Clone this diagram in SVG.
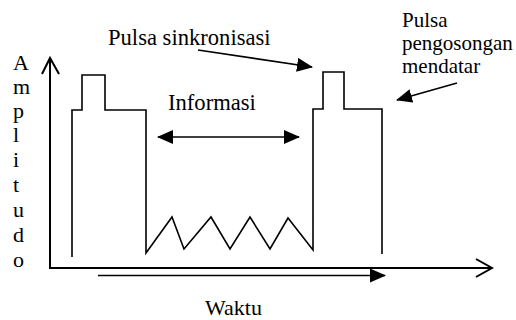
<svg xmlns="http://www.w3.org/2000/svg" width="516" height="320" viewBox="0 0 516 320">
<defs>
<style>
.t{font-family:'Liberation Serif','Times New Roman',serif;font-size:22px;fill:#000}
.b{font-size:22.6px}
.s{font-family:'Liberation Serif','Times New Roman',serif;font-size:21px;fill:#000}
.ln{fill:none;stroke:#000;stroke-width:1.6}
.ax{fill:none;stroke:#000;stroke-width:2}
</style>
<marker id="ah" markerWidth="16" markerHeight="14" refX="15" refY="7" orient="auto" markerUnits="userSpaceOnUse">
<path d="M0,0 L16,7 L0,14 Z" fill="#000"/>
</marker>
<marker id="ahs" markerWidth="16" markerHeight="14" refX="1" refY="7" orient="auto" markerUnits="userSpaceOnUse">
<path d="M16,0 L0,7 L16,14 Z" fill="#000"/>
</marker>
</defs>
<rect width="516" height="320" fill="#fff"/>
<g id="axes">
<path class="ax" d="M50,58 L50,268 L492,268"/>
<path class="ax" d="M42,74 L50,58 L59,74"/>
<path class="ax" d="M476,259 L492,268 L476,277"/>
</g>
<g id="signal">
<path class="ln" d="M72,257 L72,110 L82,110 L82,75 L105,75 L105,110 L146,110 L146,253 L172,217 L184,249 L211,217 L230,249 L250,217 L270,249 L288,218 L313,250 L313,109 L323,109 L323,72 L344,72 L344,109 L382,109 L382,254"/>
</g>
<g id="connectors">
<line class="ln" x1="98" y1="275.5" x2="385" y2="275.5" marker-end="url(#ah)"/>
<line class="ln" x1="158" y1="137" x2="299" y2="137" marker-start="url(#ahs)" marker-end="url(#ah)"/>
<line class="ln" x1="198" y1="50" x2="312" y2="67" marker-end="url(#ah)"/>
<line class="ln" x1="457" y1="83" x2="397" y2="100" marker-end="url(#ah)"/>
</g>
<g id="label-sync"><text class="t b" x="108" y="45">Pulsa sinkronisasi</text></g>
<g id="label-blank"><text class="s" x="402" y="27">Pulsa</text><text class="s" x="402" y="50">pengosongan</text><text class="s" x="402" y="73">mendatar</text></g>
<g id="label-info"><text class="t b" x="168" y="110">Informasi</text></g>
<g id="label-time"><text class="t" x="205" y="315">Waktu</text></g>
<g id="label-amp">
<text class="t" x="13" y="70">A</text>
<text class="t" x="13" y="94">m</text>
<text class="t" x="13" y="118">p</text>
<text class="t" x="13" y="142">l</text>
<text class="t" x="13" y="167">i</text>
<text class="t" x="13" y="192">t</text>
<text class="t" x="13" y="217">u</text>
<text class="t" x="13" y="242">d</text>
<text class="t" x="13" y="267">o</text>
</g>
</svg>
